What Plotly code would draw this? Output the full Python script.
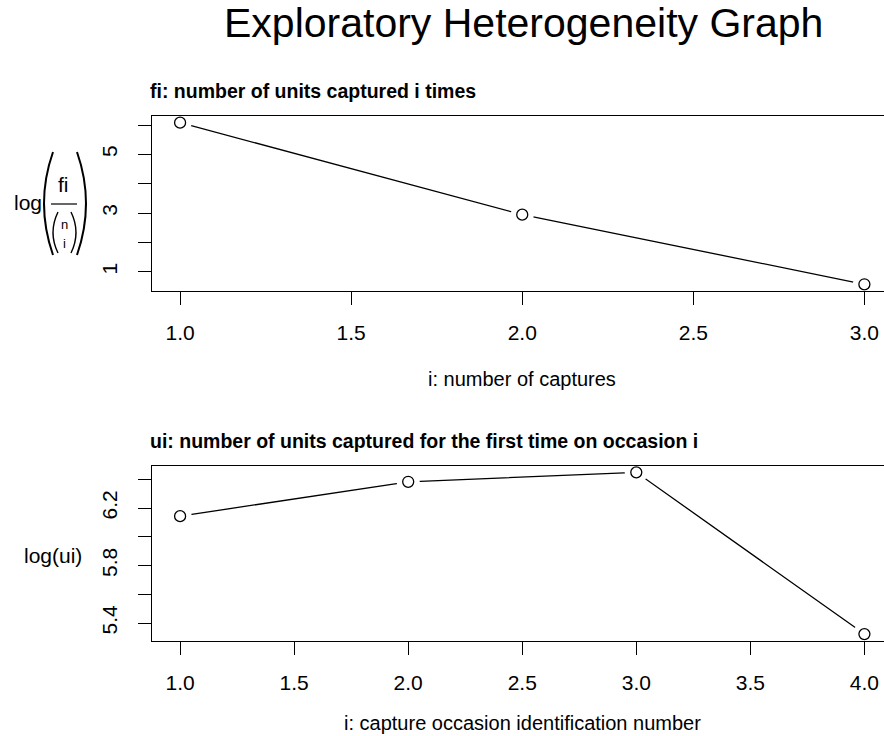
import plotly.graph_objects as go

# ---- data ----
capture_count = [1, 2, 3]
log_fi_over_binom = [6.08, 2.945, 0.57]
occasion = [1, 2, 3, 4]
log_ui = [6.144, 6.383, 6.449, 5.323]

top_xtick_vals = [1.0, 1.5, 2.0, 2.5, 3.0]
top_xtick_text = ["1.0", "1.5", "2.0", "2.5", "3.0"]
top_ytick_vals = [1, 2, 3, 4, 5, 6]
top_ytick_text = ["1", "", "3", "", "5", ""]
bot_xtick_vals = [1.0, 1.5, 2.0, 2.5, 3.0, 3.5, 4.0]
bot_xtick_text = ["1.0", "1.5", "2.0", "2.5", "3.0", "3.5", "4.0"]
bot_ytick_vals = [5.4, 5.6, 5.8, 6.0, 6.2, 6.4]
bot_ytick_text = ["5.4", "", "5.8", "", "6.2", ""]

main_title = "Exploratory Heterogeneity Graph"
top_subtitle = "fi: number of units captured i times"
bot_subtitle = "ui: number of units captured for the first time on occasion i"
top_xlabel = "i: number of captures"
bot_xlabel = "i: capture occasion identification number"
bot_ylabel = "log(ui)"

W, H = 884, 736
FONT = "Liberation Sans, Arial, Helvetica, sans-serif"


def px(x):
    return x / W


def py(y):
    return 1 - y / H


fig = go.Figure()


def add_panel(xs, ys, xa, ya):
    fig.add_trace(go.Scatter(x=xs, y=ys, mode="lines", xaxis=xa, yaxis=ya,
                             line=dict(color="black", width=1.3), hoverinfo="skip",
                             showlegend=False))
    fig.add_trace(go.Scatter(x=xs, y=ys, mode="markers", xaxis=xa, yaxis=ya,
                             marker=dict(color="white", size=23, line=dict(width=0)),
                             hoverinfo="skip", showlegend=False))
    fig.add_trace(go.Scatter(x=xs, y=ys, mode="markers", xaxis=xa, yaxis=ya,
                             marker=dict(symbol="circle-open", color="black", size=11,
                                         line=dict(width=1.3)),
                             showlegend=False))


add_panel(capture_count, log_fi_over_binom, "x", "y")
add_panel(occasion, log_ui, "x2", "y2")

axis_common = dict(showline=True, linecolor="black", linewidth=1.3, ticks="outside",
                   ticklen=13, tickwidth=1.3, tickcolor="black", showgrid=False,
                   zeroline=False, tickfont=dict(size=21, color="black", family=FONT))

fig.update_layout(
    width=W, height=H,
    margin=dict(l=0, r=0, t=0, b=0),
    paper_bgcolor="white", plot_bgcolor="white",
    font=dict(family=FONT, color="black"),
    xaxis=dict(domain=[px(152), 1], anchor="y", range=[0.9179, 3.0573],
               tickvals=top_xtick_vals, ticktext=top_xtick_text, mirror=True,
               ticklabelstandoff=10, **axis_common),
    yaxis=dict(domain=[py(290.7), py(115.7)], anchor="x", range=[0.352, 6.317],
               tickvals=top_ytick_vals, ticktext=top_ytick_text, tickangle=-90,
               ticklabelstandoff=12, **axis_common),
    xaxis2=dict(domain=[px(152), 1], anchor="y2", range=[0.8768, 4.0859],
                tickvals=bot_xtick_vals, ticktext=bot_xtick_text, mirror=True,
                ticklabelstandoff=10, **axis_common),
    yaxis2=dict(domain=[py(640.7), py(465.7)], anchor="x2", range=[5.277, 6.495],
                tickvals=bot_ytick_vals, ticktext=bot_ytick_text, tickangle=-90,
                ticklabelstandoff=12, **axis_common),
)


def ann(text, x, y, size, xanchor="center", yanchor="middle", bold=False):
    fig.add_annotation(text=f"<b>{text}</b>" if bold else text, x=px(x), y=py(y),
                       xref="paper", yref="paper", xanchor=xanchor, yanchor=yanchor,
                       showarrow=False, font=dict(size=size, color="black", family=FONT))


ann(main_title, 523, 23, 41)
ann(top_subtitle, 148, 91, 19.5, xanchor="left", bold=True)
ann(bot_subtitle, 148, 441, 19.5, xanchor="left", bold=True)
ann(top_xlabel, 522, 379, 20)
ann(bot_xlabel, 522, 723, 20)
ann(bot_ylabel, 53, 555, 21)

# composite y label: log( fi / (n i) )
ann("log", 27.5, 203, 21)
ann("fi", 63.5, 185, 21)
ann("n", 64, 224, 13)
ann("i", 64, 243, 13)
fig.add_shape(type="line", xref="paper", yref="paper", x0=px(51), x1=px(77),
              y0=py(204), y1=py(204), line=dict(color="black", width=1.2))


def paren(xe, xm, y0, y1, width):
    path = f"M {px(xe)},{py(y0)} Q {px(xm)},{py((y0 + y1) / 2)} {px(xe)},{py(y1)}"
    fig.add_shape(type="path", xref="paper", yref="paper", path=path,
                  line=dict(color="black", width=width))


paren(53, 35, 152, 255, 2.0)
paren(77, 95, 152, 255, 2.0)
paren(58, 48, 212, 253, 1.4)
paren(71, 81, 212, 253, 1.4)

fig.write_html(
    "out.html",
    config={"displayModeBar": False},
    post_script="document.body.style.margin='0';document.body.style.overflow='hidden';",
)
